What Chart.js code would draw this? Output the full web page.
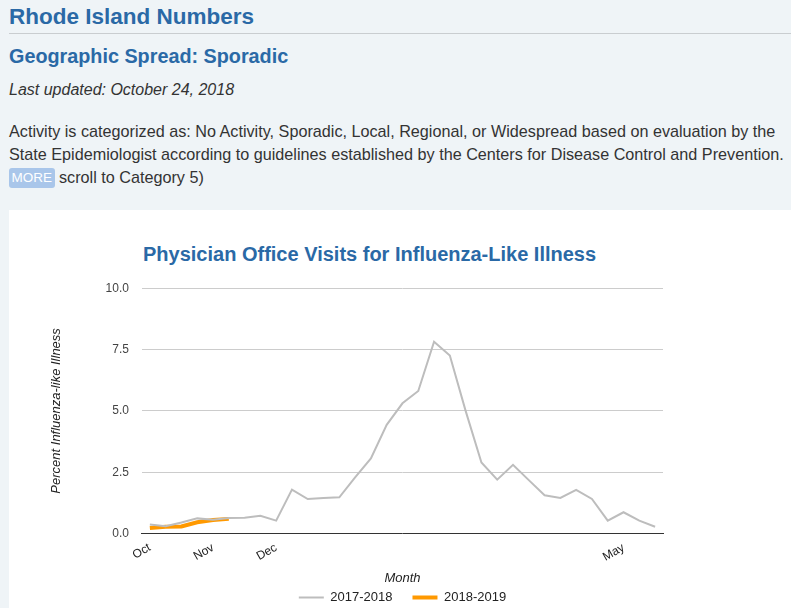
<!DOCTYPE html>
<html>
<head>
<meta charset="utf-8">
<script src="https://cdn.jsdelivr.net/npm/chart.js@4.4.0/dist/chart.umd.min.js"></script>
<style>
  html, body { margin:0; padding:0; }
  body { width:791px; height:608px; overflow:hidden; background:#eff4f7; font-family:"Liberation Sans", Arial, sans-serif; color:#333; position:relative; }
  .h1 { position:absolute; left:9px; top:4px; font-size:22.5px; font-weight:bold; color:#2a69a6; margin:0; }
  .rule { position:absolute; left:9px; right:0; top:33px; height:1px; background:#c9cdd0; }
  .h2 { position:absolute; left:9px; top:45px; font-size:19.8px; font-weight:bold; color:#2a69a6; margin:0; }
  .upd { position:absolute; left:9px; top:81px; font-size:16px; font-style:italic; color:#333; margin:0; }
  .para { position:absolute; left:9px; top:120px; font-size:16.2px; line-height:23px; color:#333; margin:0; white-space:nowrap; }
  .more { display:inline-block; background:#a9c6ea; color:#fff; border-radius:3px; padding:0 2.5px; line-height:20px; font-size:13.5px; vertical-align:1px; }
  .card { position:absolute; left:9px; top:210px; right:0; bottom:0; background:#fff; }
  .ctitle { position:absolute; left:143px; top:243px; font-size:20px; font-weight:bold; color:#2a69a6; white-space:nowrap; }
  #wrap { position:absolute; left:9px; top:268px; width:782px; height:346px; }
</style>
</head>
<body>
<div class="h1">Rhode Island Numbers</div>
<div class="rule"></div>
<div class="h2">Geographic Spread: Sporadic</div>
<div class="upd">Last updated: October 24, 2018</div>
<div class="para">Activity is categorized as: No Activity, Sporadic, Local, Regional, or Widespread based on evaluation by the<br>State Epidemiologist according to guidelines established by the Centers for Disease Control and Prevention.<br><span class="more">MORE</span> scroll to Category 5)</div>
<div class="card"></div>
<div class="ctitle">Physician Office Visits for Influenza-Like Illness</div>
<div id="wrap"><canvas id="c"></canvas></div>
<script>
// Weekly categories: MMWR week 40 (Oct) through week 20 (May)
const weeks = [40,41,42,43,44,45,46,47,48,49,50,51,52,1,2,3,4,5,6,7,8,9,10,11,12,13,14,15,16,17,18,19,20];
// Month tick labels shown on the axis (blank where none is shown)
const monthLabels = ["Oct","","","","Nov","","","","Dec","","","","","","","","","","","","","","","","","","","","","","May","",""];
const season2017 = [0.37,0.30,0.45,0.62,0.56,0.64,0.65,0.73,0.53,1.79,1.41,1.45,1.48,2.29,3.06,4.43,5.31,5.81,7.82,7.26,5.00,2.90,2.20,2.80,2.18,1.56,1.45,1.78,1.41,0.53,0.87,0.53,0.28];
const season2018 = [0.23,0.28,0.29,0.46,0.55,0.60];
const yTicks = [0, 2.5, 5, 7.5, 10];

Chart.defaults.font.family = '"Liberation Sans", Arial, sans-serif';
new Chart(document.getElementById('c'), {
  type: 'line',
  data: {
    labels: weeks.map(String),
    datasets: [
      { label: '2017-2018', data: season2017, borderColor: '#bdbdbd', backgroundColor: '#bdbdbd', borderWidth: 2, pointRadius: 0, tension: 0, fill: false },
      { label: '2018-2019', data: season2018, borderColor: '#ff9900', backgroundColor: '#ff9900', borderWidth: 4, pointRadius: 0, tension: 0, fill: false }
    ]
  },
  options: {
    responsive: true,
    maintainAspectRatio: false,
    animation: false,
    layout: { padding: { left: 0, right: 128, top: 13, bottom: 0 } },
    plugins: {
      title: { display: false },
      tooltip: { enabled: false },
      legend: {
        position: 'bottom',
        fullSize: false,
        labels: { usePointStyle: true, pointStyle: 'line', pointStyleWidth: 25, boxHeight: 12, color: '#222', font: { size: 13 }, padding: 20 }
      }
    },
    scales: {
      x: {
        offset: true,
        grid: { display: false, drawTicks: false },
        border: { display: true, color: '#333', width: 1 },
        ticks: {
          autoSkip: false, maxRotation: 30, minRotation: 30, color: '#222', font: { size: 12 }, padding: 7,
          callback: (v, i) => monthLabels[i]
        },
        title: { display: true, text: 'Month', color: '#222', font: { size: 13, style: 'italic' }, padding: { top: -1, bottom: -15 } }
      },
      y: {
        min: 0, max: 10,
        afterBuildTicks: (s) => { s.ticks = yTicks.map(v => ({ value: v })); },
        grid: { color: (c) => c.tick && c.tick.value === 0 ? 'rgba(0,0,0,0)' : '#cccccc', drawTicks: false },
        border: { display: false },
        ticks: { color: '#444', font: { size: 12 }, padding: 13, callback: (v) => Number(v).toFixed(1) },
        title: { display: true, text: 'Percent Influenza-like Illness', color: '#222', font: { size: 13, style: 'italic' }, padding: { top: 40, bottom: 28 } }
      }
    }
  }
});
</script>
</body>
</html>
